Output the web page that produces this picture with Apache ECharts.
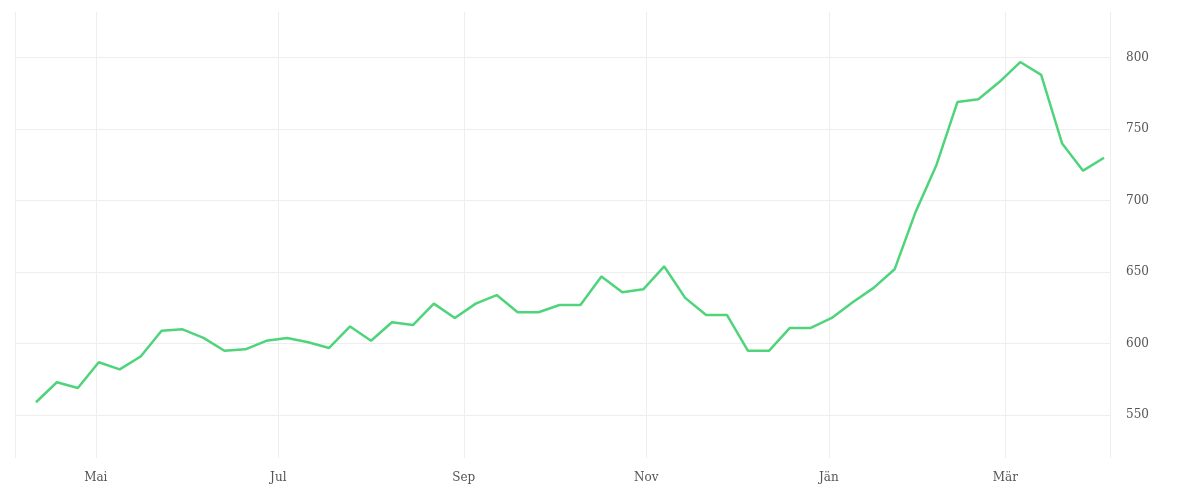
<!DOCTYPE html>
<html><head><meta charset="utf-8">
<script src="https://cdn.jsdelivr.net/npm/echarts@6/dist/echarts.min.js"></script>
<style>html,body{margin:0;padding:0;background:#fff}#c{width:1200px;height:500px}</style>
</head><body><div id="c"></div>
<script>
const startDate = '2022-04-11';
const values = [559,573,569,587,582,591,609,610,604,595,596,602,604,601,597,612,602,615,613,628,618,628,634,622,622,627,627,647,636,638,654,632,620,620,595,595,611,611,618,629,639,652,692,725,769,771,783,797,788,740,721,730];
const monthNames = ['Jän','Feb','Mär','Apr','Mai','Jun','Jul','Aug','Sep','Okt','Nov','Dez'];
const yTicks = [550,600,650,700,750,800];

const t0 = new Date(startDate + 'T00:00:00Z').getTime();
const data = values.map((v,i)=>[t0 + i*7*86400000, v]);
const chart = echarts.init(document.getElementById('c'));
chart.setOption({
  animation:false,
  grid:{left:15,right:90,top:12,bottom:42},
  xAxis:{type:'time',min:Date.UTC(2022,3,4),max:Date.UTC(2023,3,5),
    minInterval:28*86400000,
    axisLine:{show:false},axisTick:{show:false},
    splitLine:{show:true,lineStyle:{color:'#eeeeee'}},
    axisLabel:{color:'#555',fontFamily:'DejaVu Serif',fontSize:12,margin:14,
      formatter:v=>monthNames[new Date(v).getUTCMonth()]}},
  yAxis:{type:'value',position:'right',min:520,max:832,
    axisLine:{show:false},axisTick:{show:false,customValues:yTicks},
    splitLine:{show:true,lineStyle:{color:'#eeeeee'}},
    axisLabel:{customValues:yTicks,color:'#555',fontFamily:'DejaVu Serif',fontSize:12,margin:16}},
  series:[{type:'line',data:data,showSymbol:false,lineStyle:{color:'#4fd47c',width:2.5},itemStyle:{color:'#4fd47c'}}]
});
</script></body></html>
